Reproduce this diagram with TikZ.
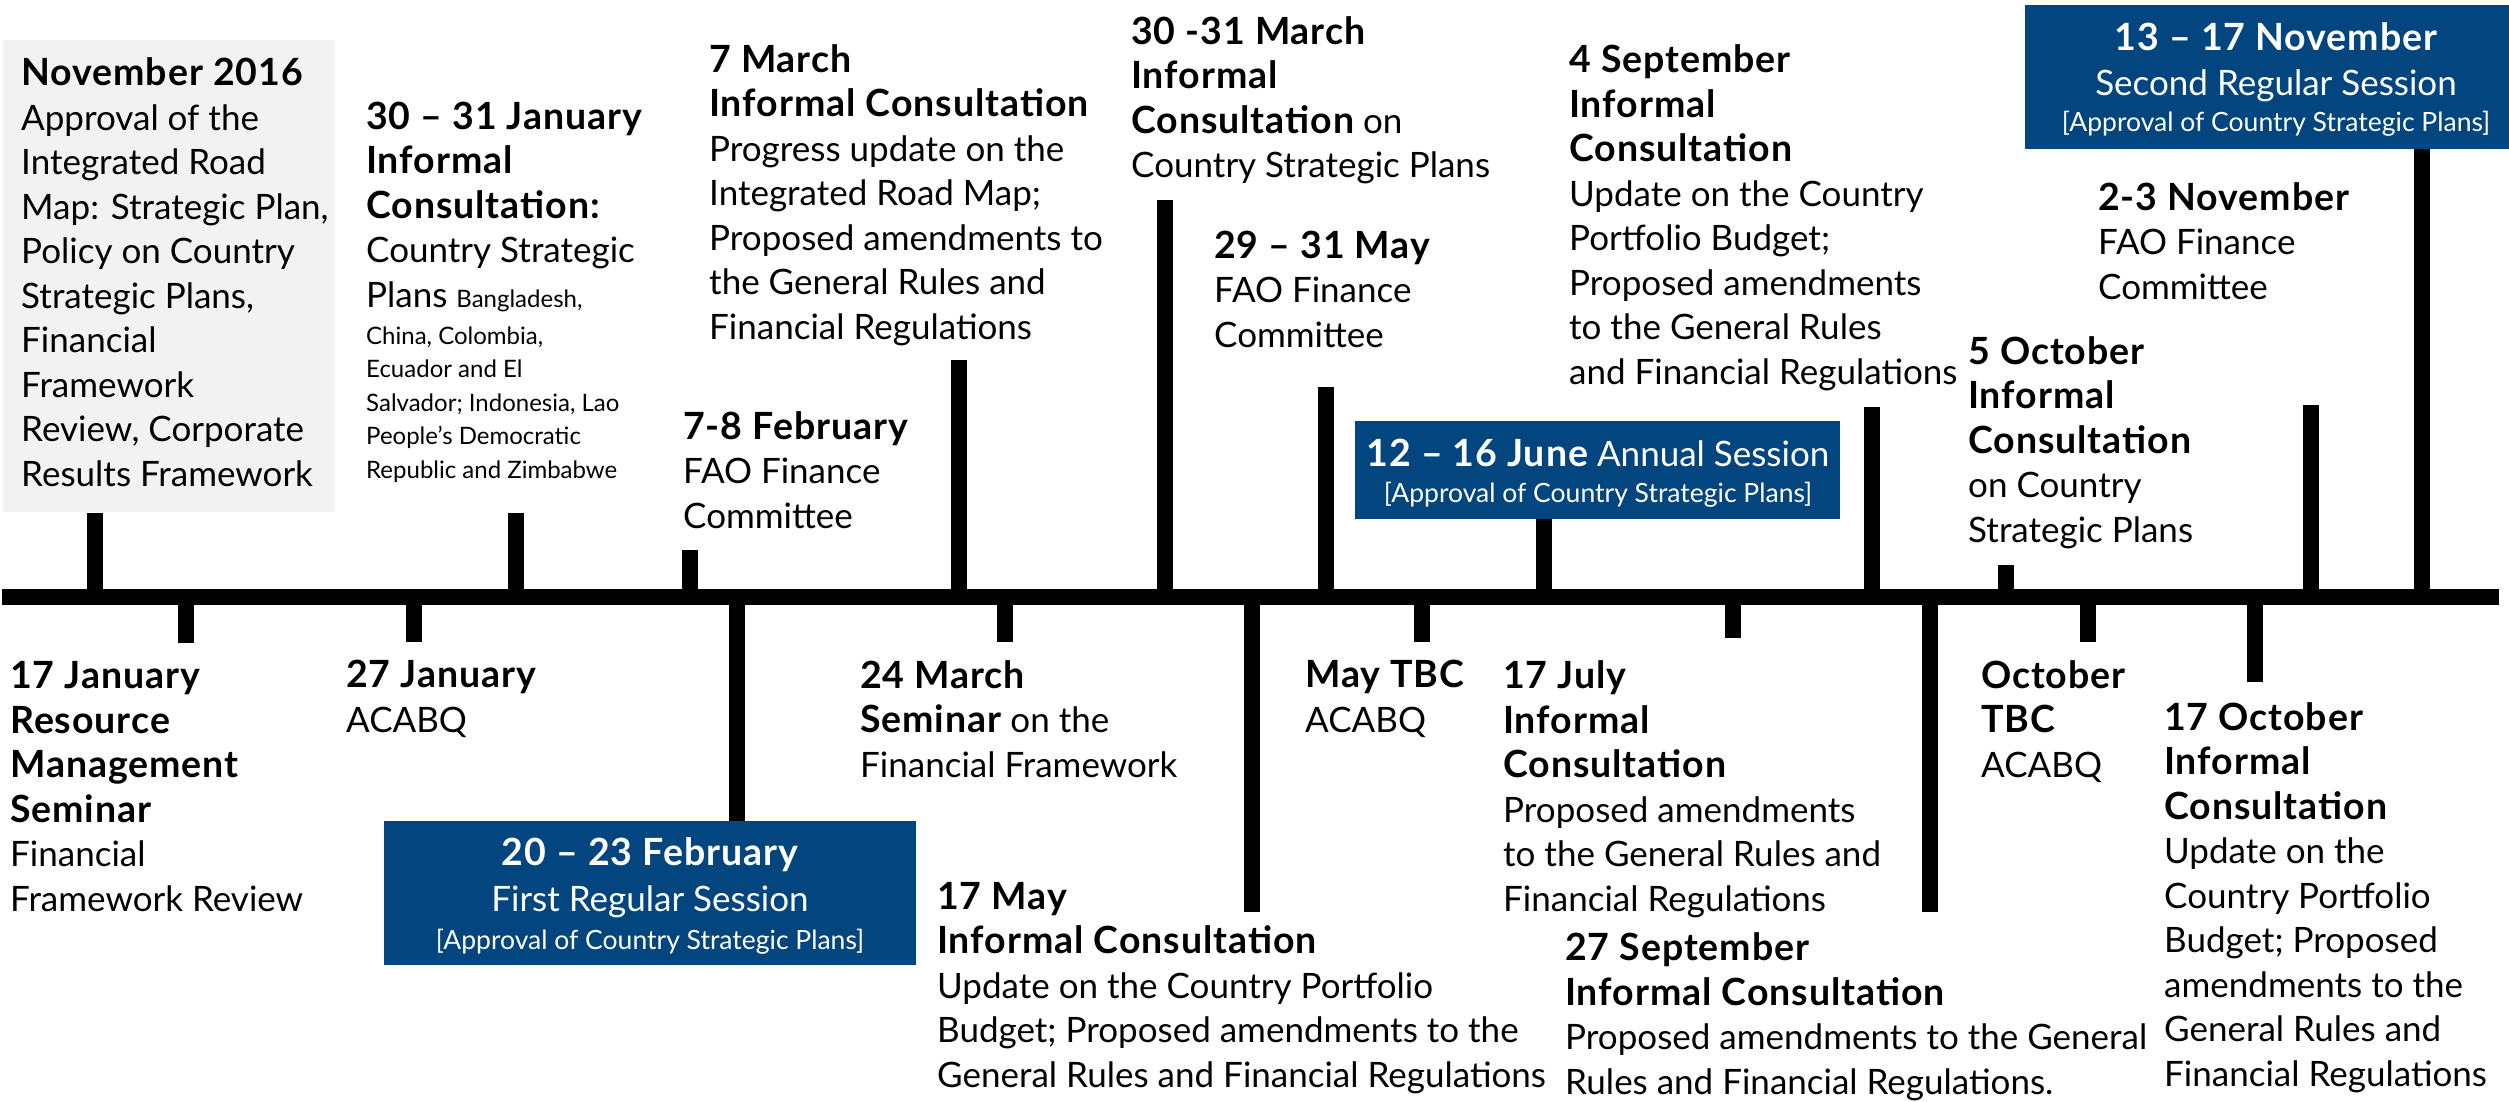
\documentclass[tikz,border=0pt]{standalone}
\usepackage{fontspec}
\setmainfont{Lato}[BoldFeatures={LetterSpace=2.5}]
\definecolor{wfpblue}{RGB}{2,69,127}
\definecolor{boxgray}{HTML}{F2F2F2}
\newcommand{\sm}{\fontsize{24}{33.5}\selectfont}
\newcommand{\B}[1]{{\fontsize{37.5}{44.5}\selectfont\bfseries #1}}
\begin{document}
\begin{tikzpicture}[x=1pt,y=-1pt,
  txt/.style={anchor=base west, align=left, inner sep=0pt, font=\fontsize{35}{44.5}\selectfont},
  smtxt/.style={anchor=base west, align=left, inner sep=0pt, font=\fontsize{24}{33.5}\selectfont},
  wtxt/.style={anchor=base, inner sep=0pt, text=white, font=\fontsize{35}{44.5}\selectfont},
  wsm/.style={anchor=base, inner sep=0pt, text=white, font=\fontsize{26.5}{33.5}\selectfont},
  bluebox/.style={fill=wfpblue, draw=none, inner sep=0pt, anchor=north west},
  graybox/.style={fill=boxgray, draw=none, inner sep=0pt, anchor=north west},
  tick/.style={line width=16pt, line cap=butt, draw=black},
  axis/.style={line width=16pt, line cap=butt, draw=black}]
\useasboundingbox (0,0) rectangle (2509,1102);

% boxes
\node[graybox, minimum width=332pt, minimum height=472pt] (grey) at (3,40) {};
\node[bluebox, minimum width=532pt, minimum height=144pt] (febbox) at (384,821) {};
\node[bluebox, minimum width=485pt, minimum height=98pt] (junebox) at (1355,421) {};
\node[bluebox, minimum width=484pt, minimum height=144pt] (novbox) at (2025,5) {};

% axis and ticks
\coordinate (axL) at (2,597);
\coordinate (axR) at (2499,597);
\draw[axis] (axL) -- (axR);
\foreach \n/\x/\y in {u1/95/513, u2/516/513, u3/690/550, u4/959/360, u5/1165/200,
  u6/1326/387, u7/1544/519, u8/1872/407, u9/2006/565, u10/2311/405, u11/2422/149,
  d1/186/643, d2/414/642, d3/737/821, d4/1005/642, d5/1252/912, d6/1422/642,
  d7/1733/638, d8/1930/912, d9/2088/642, d10/2255/682}{
  \coordinate (\n-end) at (\x,\y);
  \coordinate (\n-ax) at (\x,597);
  \draw[tick] (\n-end) -- (\n-ax);
}

% top texts (positions are the baseline of the last line)
\node[txt] (nov16) at (21,486) {\B{November 2016}\\Approval of the\\Integrated Road\\Map: Strategic Plan,\\Policy on Country\\Strategic Plans,\\Financial\\Framework\\Review, Corporate\\Results Framework};
\node[txt] (jan3031) at (366,307) {\B{30 – 31 January}\\\B{Informal}\\\B{Consultation:}\\Country Strategic\\Plans {\sm Bangladesh,}};
\node[smtxt] (jan3031b) at (366,478) {China, Colombia,\\Ecuador and El\\Salvador; Indonesia, Lao\\People’s Democratic\\Republic and Zimbabwe};
\node[txt] (feb78) at (683,528) {\B{7-8 February}\\FAO Finance\\Committee};
\node[txt] (mar7) at (709,339) {\B{7 March}\\\B{Informal Consultation}\\Progress update on the\\Integrated Road Map;\\Proposed amendments to\\the General Rules and\\Financial Regulations};
\node[txt] (mar3031) at (1131,178) {\B{30 -31 March}\\\B{Informal}\\\B{Consultation} on\\Country Strategic Plans};
\node[txt] (may2931) at (1214,347) {\B{29 – 31 May}\\FAO Finance\\Committee};
\node[wtxt] (june1) at (1598,466) {\B{12 – 16 June} Annual Session};
\node[wsm] (june2) at (1598,502) {[Approval of Country Strategic Plans]};
\node[txt] (sep4) at (1569,384) {\B{4 September}\\\B{Informal}\\\B{Consultation}\\Update on the Country\\Portfolio Budget;\\Proposed amendments\\to the General Rules\\and Financial Regulations};
\node[txt] (oct5) at (1968,542) {\B{5 October}\\\B{Informal}\\\B{Consultation}\\on Country\\Strategic Plans};
\node[txt] (nov23) at (2098,299) {\B{2-3 November}\\FAO Finance\\Committee};
\node[wtxt] (nov1) at (2276,51) {\B{13 – 17 November}};
\node[wtxt] (nov2) at (2276,96) {Second Regular Session};
\node[wsm] (nov3) at (2276,132) {[Approval of Country Strategic Plans]};

% bottom texts
\node[txt] (jan17) at (10,911) {\B{17 January}\\\B{Resource}\\\B{Management}\\\B{Seminar}\\Financial\\Framework Review};
\node[txt] (jan27) at (346,732) {\B{27 January}\\ACABQ};
\node[wtxt] (feb1) at (650,865) {\B{20 – 23 February}};
\node[wtxt] (feb2) at (650,911) {First Regular Session};
\node[wsm] (feb3) at (650,949) {[Approval of Country Strategic Plans]};
\node[txt] (mar24) at (860,777) {\B{24 March}\\\B{Seminar} on the\\Financial Framework};
\node[txt] (may17) at (937,1087) {\B{17 May}\\\B{Informal Consultation}\\Update on the Country Portfolio\\Budget; Proposed amendments to the\\General Rules and Financial Regulations};
\node[txt] (maytbc) at (1305,732) {\B{May TBC}\\ACABQ};
\node[txt] (jul17) at (1503,911) {\B{17 July}\\\B{Informal}\\\B{Consultation}\\Proposed amendments\\to the General Rules and\\Financial Regulations};
\node[txt] (sep27) at (1565,1094) {\B{27 September}\\\B{Informal Consultation}\\Proposed amendments to the General\\Rules and Financial Regulations.};
\node[txt] (octtbc) at (1981,777) {\B{October}\\\B{TBC}\\ACABQ};
\node[txt] (oct17) at (2164,1086) {\B{17 October}\\\B{Informal}\\\B{Consultation}\\Update on the\\Country Portfolio\\Budget; Proposed\\amendments to the\\General Rules and\\Financial Regulations};
\end{tikzpicture}
\end{document}
